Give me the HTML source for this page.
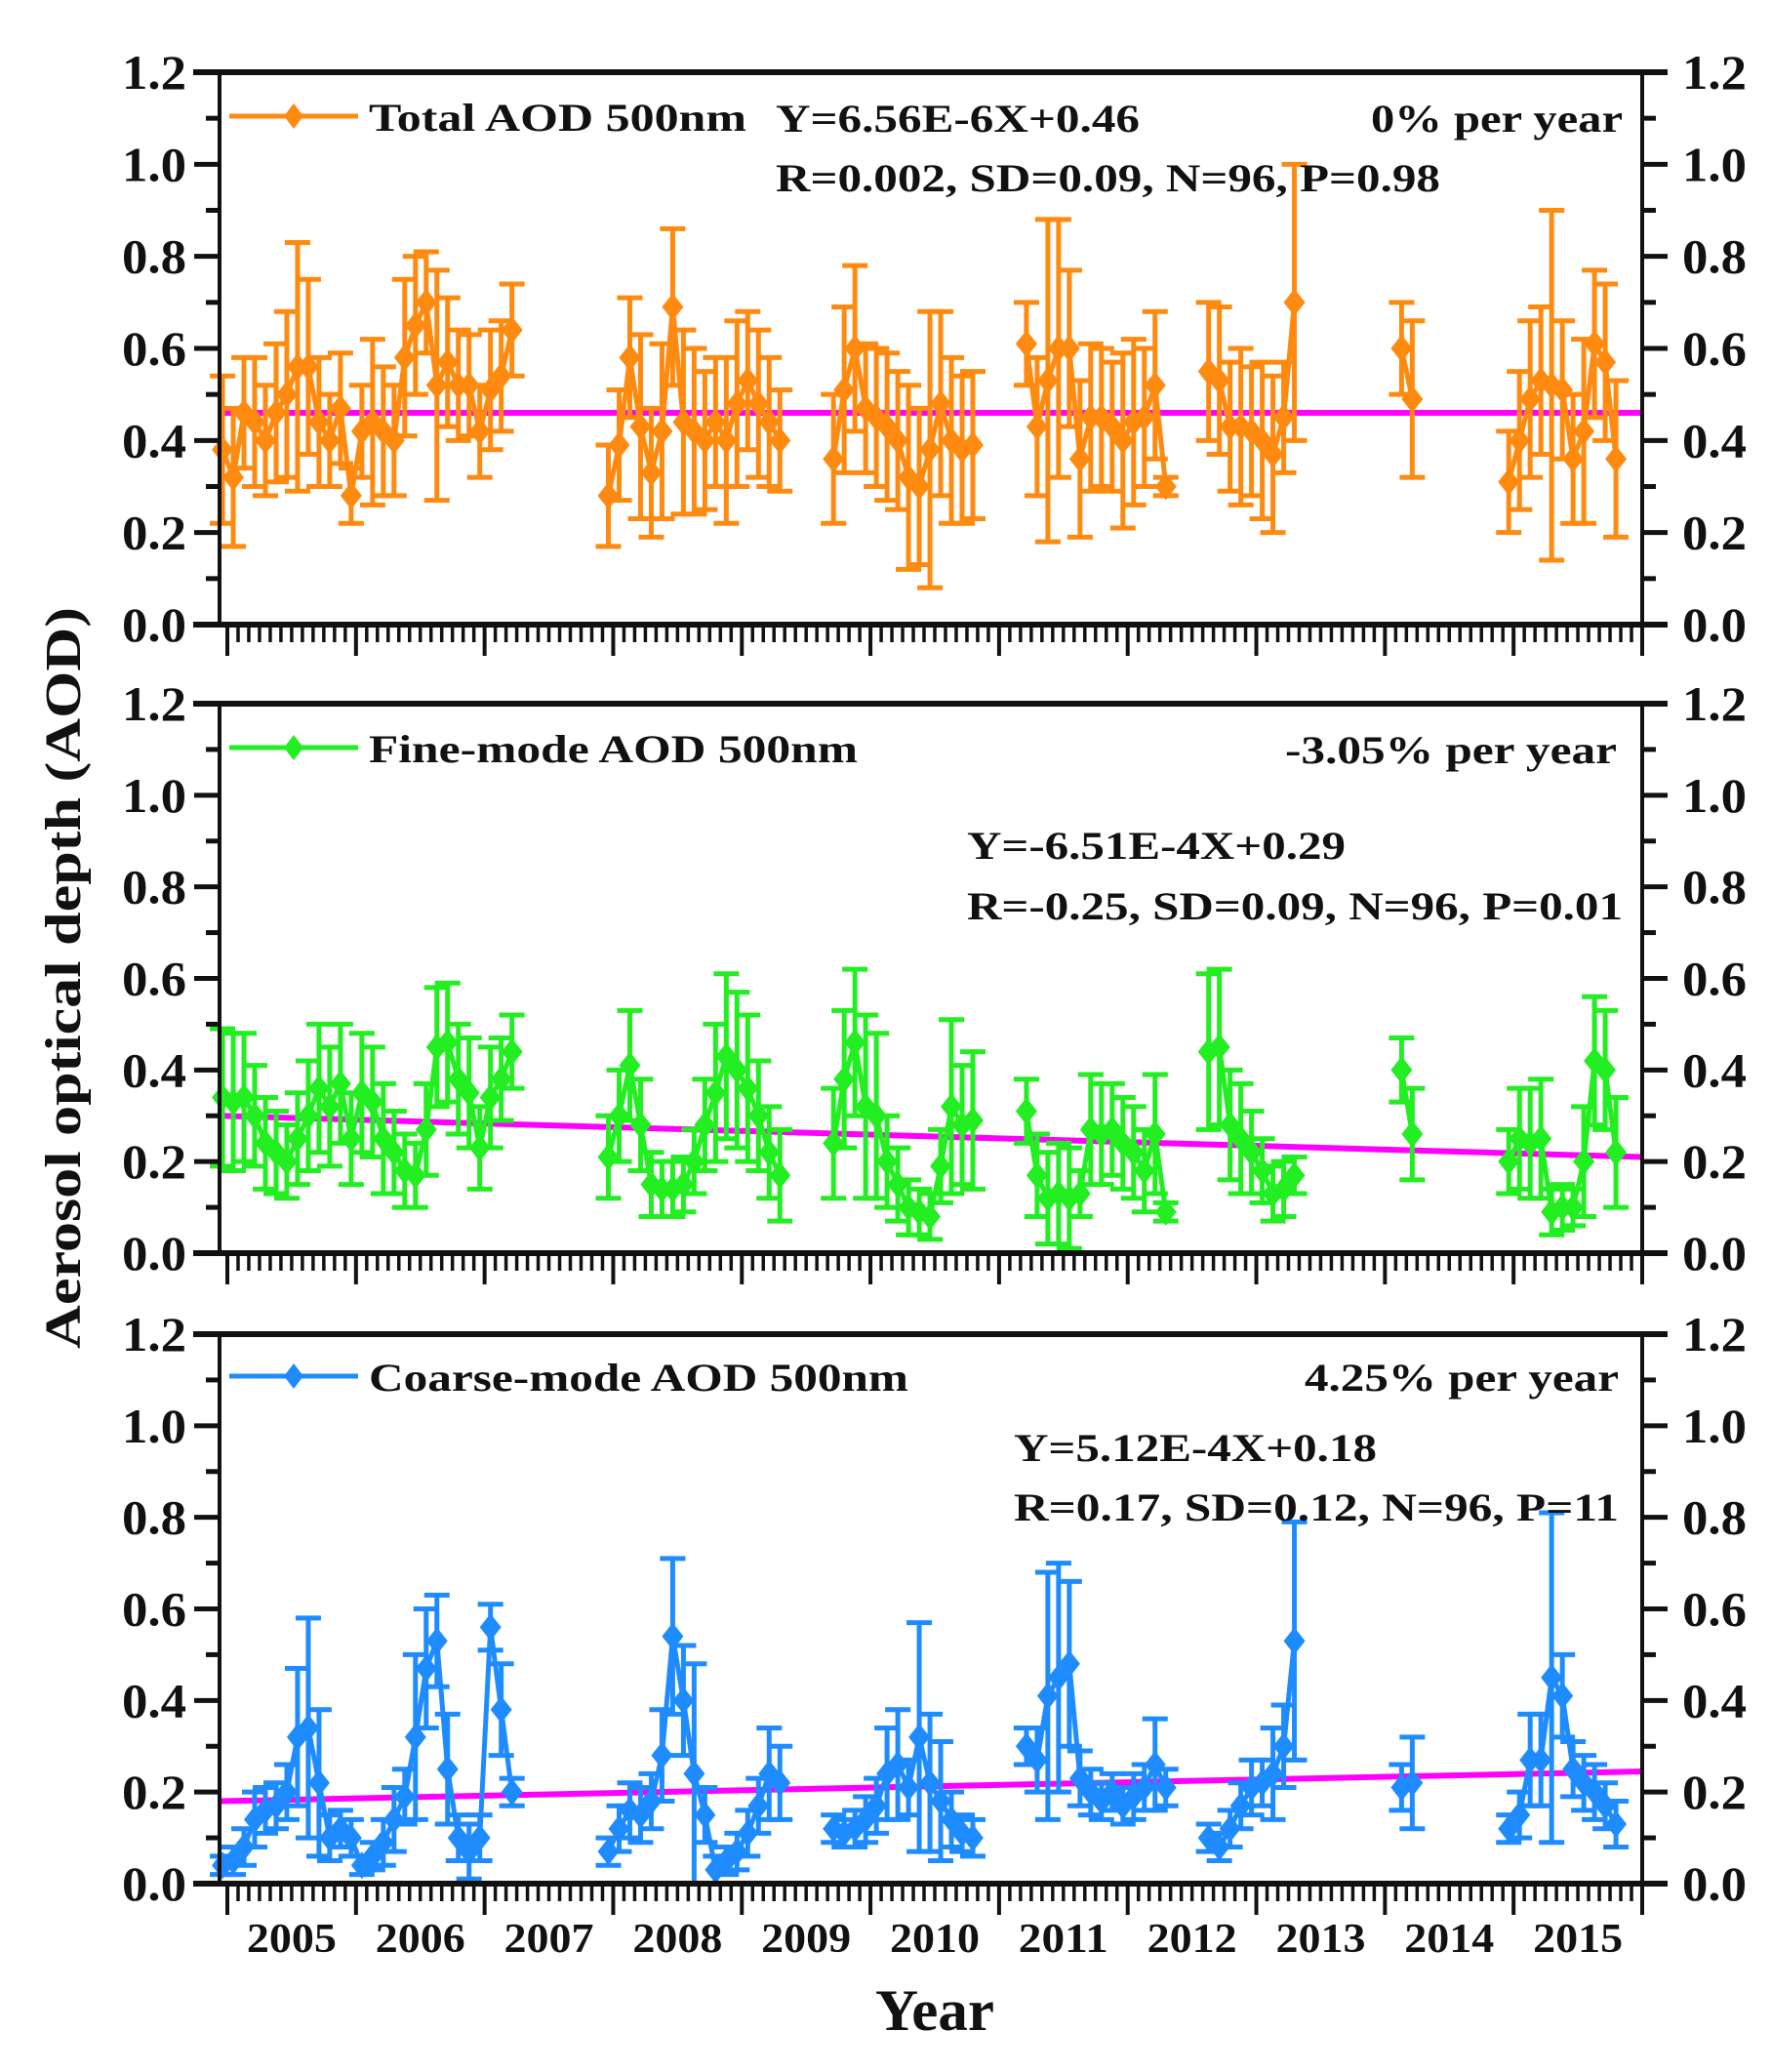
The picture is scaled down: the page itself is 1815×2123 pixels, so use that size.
<!DOCTYPE html>
<html><head><meta charset="utf-8"><style>
html,body{margin:0;padding:0;background:#fff}
svg{display:block}
svg text{font-family:"Liberation Serif","Times New Roman",Times,serif;font-weight:bold;fill:#111}
</style></head><body>
<svg id="chart" xmlns="http://www.w3.org/2000/svg" width="1815" height="2123" viewBox="0 0 1815 2123" font-family="Liberation Serif, Times New Roman, serif"></svg>
<script>
// ---- data (month index: 0 = Jan 2005) ----
const segStarts = [0, 36, 57, 75, 92, 110, 120];
const yTicks = ["0.0","0.2","0.4","0.6","0.8","1.0","1.2"];
const yearLabels = ["2005","2006","2007","2008","2009","2010","2011","2012","2013","2014","2015"];

const totalVals = [
 [0.38,0.32,0.46,0.44,0.40,0.46,0.50,0.56,0.56,0.44,0.40,0.47,0.28,0.42,0.44,0.42,0.40,0.58,0.65,0.70,0.52,0.57,0.52,0.52,0.42,0.51,0.54,0.64],
 [0.28,0.39,0.58,0.43,0.33,0.42,0.69,0.44,0.42,0.40,0.44,0.40,0.48,0.53,0.48,0.44,0.40],
 [0.36,0.51,0.60,0.47,0.45,0.43,0.40,0.32,0.30,0.38,0.48,0.40,0.38,0.39],
 [0.61,0.43,0.53,0.60,0.60,0.36,0.45,0.45,0.43,0.40,0.44,0.45,0.52,0.30],
 [0.55,0.53,0.43,0.43,0.42,0.40,0.37,0.45,0.70],
 [0.60,0.49],
 [0.31,0.40,0.49,0.53,0.52,0.51,0.36,0.42,0.61,0.57,0.36]
];
const totalErr = [
 [0.16,0.15,0.12,0.14,0.12,0.15,0.18,0.27,0.19,0.14,0.10,0.12,0.06,0.10,0.18,0.14,0.12,0.17,0.15,0.11,0.25,0.14,0.12,0.11,0.10,0.13,0.12,0.10],
 [0.11,0.12,0.13,0.20,0.14,0.19,0.17,0.20,0.18,0.15,0.14,0.18,0.18,0.15,0.16,0.14,0.11],
 [0.14,0.18,0.18,0.14,0.15,0.16,0.15,0.20,0.17,0.30,0.20,0.18,0.16,0.16],
 [0.09,0.15,0.35,0.28,0.17,0.17,0.16,0.15,0.14,0.19,0.18,0.15,0.16,0.02],
 [0.15,0.16,0.14,0.17,0.14,0.17,0.17,0.12,0.30],
 [0.10,0.17],
 [0.11,0.15,0.17,0.16,0.38,0.15,0.14,0.20,0.16,0.17,0.17]
];
const fineVals = [
 [0.34,0.33,0.34,0.30,0.24,0.22,0.20,0.25,0.30,0.36,0.32,0.37,0.25,0.35,0.33,0.25,0.22,0.18,0.17,0.27,0.45,0.46,0.38,0.35,0.23,0.34,0.38,0.44],
 [0.21,0.30,0.41,0.28,0.15,0.14,0.14,0.15,0.20,0.28,0.35,0.43,0.40,0.36,0.30,0.22,0.17],
 [0.24,0.38,0.46,0.32,0.30,0.20,0.15,0.10,0.09,0.08,0.19,0.32,0.28,0.29],
 [0.31,0.17,0.12,0.13,0.12,0.13,0.27,0.26,0.27,0.24,0.22,0.18,0.26,0.09],
 [0.44,0.45,0.28,0.25,0.22,0.18,0.13,0.14,0.17],
 [0.40,0.26],
 [0.20,0.25,0.24,0.25,0.09,0.10,0.10,0.20,0.42,0.40,0.22]
];
const fineErr = [
 [0.15,0.15,0.14,0.11,0.10,0.09,0.08,0.10,0.12,0.14,0.13,0.13,0.10,0.13,0.12,0.12,0.09,0.08,0.07,0.10,0.13,0.13,0.12,0.12,0.09,0.11,0.09,0.08],
 [0.09,0.10,0.12,0.10,0.07,0.06,0.06,0.06,0.07,0.10,0.15,0.18,0.17,0.16,0.12,0.10,0.10],
 [0.12,0.15,0.16,0.20,0.18,0.10,0.08,0.06,0.05,0.05,0.08,0.19,0.13,0.15],
 [0.07,0.09,0.10,0.11,0.11,0.05,0.12,0.11,0.10,0.10,0.10,0.09,0.13,0.02],
 [0.17,0.17,0.12,0.12,0.09,0.07,0.06,0.06,0.04],
 [0.07,0.10],
 [0.07,0.11,0.12,0.13,0.05,0.05,0.04,0.12,0.14,0.13,0.12]
];
const coarseVals = [
 [0.04,0.05,0.08,0.14,0.16,0.17,0.20,0.32,0.34,0.22,0.10,0.12,0.10,0.04,0.06,0.09,0.14,0.19,0.32,0.47,0.53,0.25,0.10,0.07,0.10,0.56,0.38,0.20],
 [0.07,0.12,0.16,0.15,0.18,0.28,0.54,0.40,0.24,0.15,0.03,0.05,0.07,0.11,0.17,0.24,0.22],
 [0.12,0.11,0.12,0.14,0.17,0.24,0.26,0.21,0.32,0.22,0.18,0.14,0.11,0.10],
 [0.30,0.27,0.41,0.45,0.48,0.23,0.20,0.18,0.20,0.17,0.19,0.21,0.26,0.21],
 [0.10,0.08,0.12,0.17,0.21,0.22,0.24,0.30,0.53],
 [0.21,0.22],
 [0.12,0.15,0.27,0.27,0.45,0.41,0.25,0.22,0.20,0.17,0.13]
];
const coarseErr = [
 [0.02,0.03,0.04,0.06,0.05,0.05,0.06,0.15,0.24,0.16,0.05,0.04,0.04,0.02,0.03,0.05,0.07,0.06,0.18,0.13,0.10,0.12,0.05,0.06,0.05,0.05,0.10,0.03],
 [0.03,0.05,0.06,0.06,0.06,0.10,0.17,0.12,0.24,0.06,0.03,0.03,0.04,0.05,0.06,0.10,0.08],
 [0.03,0.03,0.04,0.05,0.06,0.10,0.12,0.06,0.25,0.15,0.13,0.06,0.04,0.04],
 [0.04,0.07,0.27,0.25,0.18,0.06,0.05,0.04,0.04,0.04,0.05,0.05,0.10,0.04],
 [0.03,0.03,0.04,0.05,0.06,0.05,0.10,0.09,0.26],
 [0.05,0.10],
 [0.03,0.05,0.10,0.10,0.36,0.09,0.06,0.06,0.06,0.05,0.05]
];
const totalTrend = [0.46, 0.46];
const fineTrend = [0.300, 0.210];
const coarseTrend = [0.180, 0.245];

// ---- layout ----
const NS = "http://www.w3.org/2000/svg";
const svg = document.getElementById('chart');
const FONT = '"Liberation Serif", "Times New Roman", serif';
const X0 = 225, X1 = 1683, T2005 = 233, PX_M = (1683 - 233) / 132;
function xScale(m){ return T2005 + (m - 0.45) * PX_M; }
function mk(tag, attrs, parent){
  const e = document.createElementNS(NS, tag);
  for (const k in attrs) e.setAttribute(k, attrs[k]);
  (parent || svg).appendChild(e);
  return e;
}
function txt(str, x, y, size, anchor, len, parent){
  const t = mk('text', {x:x, y:y, 'font-size':size, 'text-anchor':anchor||'start', 'font-weight':'bold'}, parent);
  t.style.fontFamily = FONT;
  if (len){ t.setAttribute('textLength', len); t.setAttribute('lengthAdjust','spacingAndGlyphs'); }
  t.textContent = str;
  return t;
}

const panels = [
 {name:'total', top:74, bot:640, color:'#ff8a10', vals:totalVals, errs:totalErr, trend:totalTrend,
  legend:'Total AOD 500nm', legendLen:387, legY:119,
  notes:[['Y=6.56E-6X+0.46',795,135,373,'start'],['R=0.002, SD=0.09, N=96, P=0.98',795,196,681,'start'],['0% per year',1663,135,258,'end']]},
 {name:'fine', top:721, bot:1284, color:'#22ee22', vals:fineVals, errs:fineErr, trend:fineTrend,
  legend:'Fine-mode AOD 500nm', legendLen:501, legY:766,
  notes:[['-3.05% per year',1657,782,340,'end'],['Y=-6.51E-4X+0.29',991,880,388,'start'],['R=-0.25, SD=0.09, N=96, P=0.01',991,942,672,'start']]},
 {name:'coarse', top:1367, bot:1930, color:'#1e8cff', vals:coarseVals, errs:coarseErr, trend:coarseTrend,
  legend:'Coarse-mode AOD 500nm', legendLen:553, legY:1410,
  notes:[['4.25% per year',1659,1425,322,'end'],['Y=5.12E-4X+0.18',1039,1497,372,'start'],['R=0.17, SD=0.12, N=96, P=11',1039,1558,620,'start']]}
];

panels.forEach(function(p){
  const g = mk('g', {});
  
  
  const yS = function(v){ return p.bot - v / 1.2 * (p.bot - p.top); };

  const tr = mk('line', {x1:X0, x2:X1, y1:yS(p.trend[0]), y2:yS(p.trend[1]), stroke:'#ff00ff', 'stroke-width':6}, g);
  
  

  p.vals.forEach(function(seg, si){
    const pts = [];
    seg.forEach(function(v, i){
      const m = segStarts[si] + i;
      const x = xScale(m), y = yS(v);
      const e = p.errs[si][i];
      const yt = yS(v + e), yb = yS(Math.max(0, v - e));
      const eb = mk('path', {d:'M'+x+' '+yt+'V'+yb+'M'+(x-13)+' '+yt+'H'+(x+13)+'M'+(x-13)+' '+yb+'H'+(x+13), stroke:p.color, 'stroke-width':5, fill:'none'}, g);
      
      
      pts.push(x + ',' + y);
    });
    const pl = mk('polyline', {points:pts.join(' '), stroke:p.color, 'stroke-width':5, fill:'none'}, g);
    
    
    seg.forEach(function(v, i){
      const x = xScale(segStarts[si] + i), y = yS(v);
      const d = mk('path', {d:'M'+x+' '+(y-14)+'L'+(x+11)+' '+y+'L'+x+' '+(y+14)+'L'+(x-11)+' '+y+'Z', fill:p.color}, g);
      
      
    });
  });

  const fr = mk('path', {d:'M'+X0+' '+p.bot+'V'+p.top+'M'+X1+' '+p.top+'V'+p.bot, stroke:'#111', 'stroke-width':4, fill:'none'}, g);
  
  
  mk('line', {x1:198, x2:X1+26, y1:p.top, y2:p.top, stroke:'#111', 'stroke-width':6}, g);
  mk('line', {x1:198, x2:X1+26, y1:p.bot, y2:p.bot, stroke:'#111', 'stroke-width':6}, g);

  for (let k = 0; k <= 12; k++){
    const y = yS(k / 10);
    const major = k % 2 === 0;
    const L = major ? 26 : 14;
    mk('line', {x1:X0 - L, x2:X0, y1:y, y2:y, stroke:'#111', 'stroke-width':5}, g);
    mk('line', {x1:X1, x2:X1 + L, y1:y, y2:y, stroke:'#111', 'stroke-width':5}, g);
  }
  yTicks.forEach(function(lbl, k){
    const y = yS(k * 0.2) + 17;
    const l = txt(lbl, 191, y, 50, 'end', 66, g);
    
    
    const r = txt(lbl, 1724, y, 50, 'start', 66, g);
    
    
  });

  for (let m = -1; m <= 132; m++){
    const x = T2005 + m * PX_M;
    if (x < X0 || x > X1 + 1) continue;
    const major = m % 12 === 0;
    mk('line', {x1:x, x2:x, y1:p.bot, y2:p.bot + (major ? 32 : 18), stroke:'#111', 'stroke-width': major ? 4 : 3.5}, g);
  }

  const lg = mk('g', {}, g);
  
  
  mk('line', {x1:235, x2:367, y1:p.legY, y2:p.legY, stroke:p.color, 'stroke-width':5}, lg);
  mk('path', {d:'M301 '+(p.legY-13)+'L311 '+p.legY+'L301 '+(p.legY+13)+'L291 '+p.legY+'Z', fill:p.color}, lg);
  txt(p.legend, 378, p.legY + 15, 40, 'start', p.legendLen, lg);

  p.notes.forEach(function(n){
    const t = txt(n[0], n[1], n[2], 40, n[4], n[3], g);
    
    
  });
});

yearLabels.forEach(function(lbl, i){
  const x = T2005 + (i + 0.5) * 12 * PX_M;
  const t = txt(lbl, x, 2000, 42, 'middle', 92);
  
  
});

const xt = txt('Year', 958, 2080, 60, 'middle', 122);



const yt = txt('Aerosol optical depth (AOD)', 0, 0, 52, 'middle', 760);
yt.setAttribute('transform', 'translate(82,1002) rotate(-90)');


</script>
</body></html>
